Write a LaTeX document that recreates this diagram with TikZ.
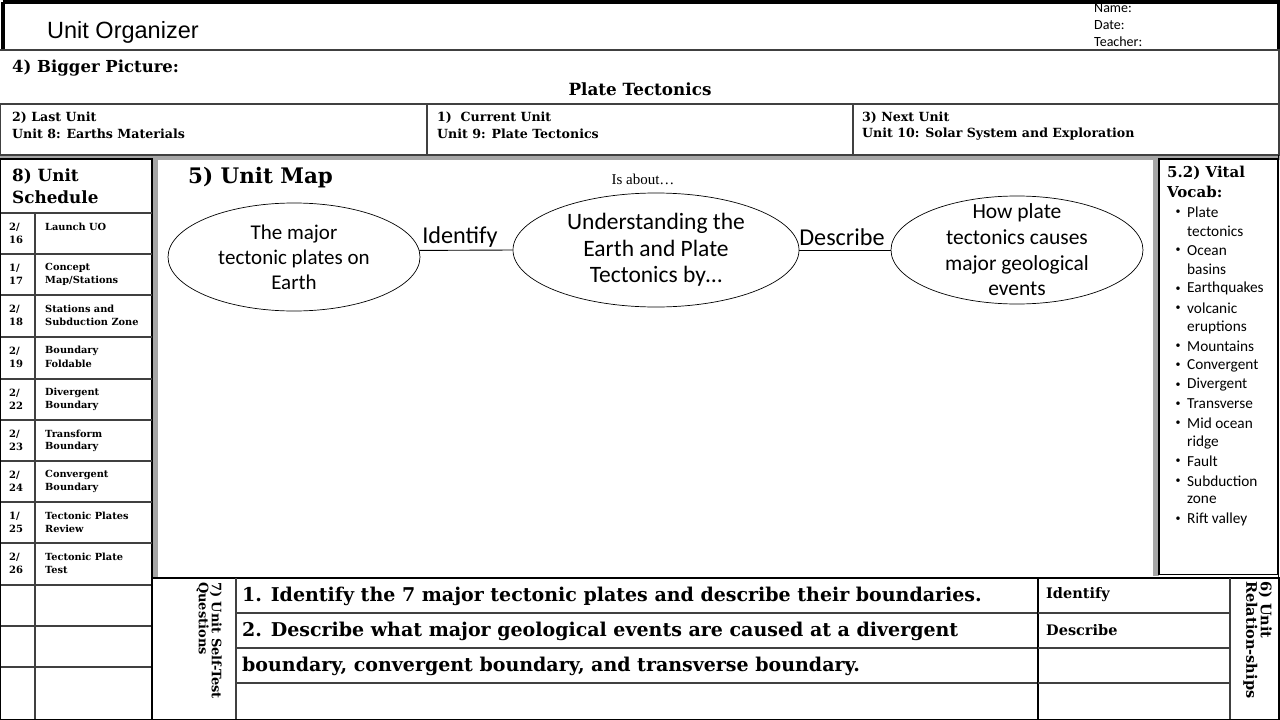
\documentclass[tikz,border=0pt]{standalone}
\usepackage{fontspec}
\setmainfont{Carlito}
\newfontfamily\arialf{Liberation Sans}
\newfontfamily\slab{DejaVu Serif}
\newfontfamily\tnr{Liberation Serif}
\usetikzlibrary{shapes.geometric}
\tikzset{
  sb/.style={inner sep=0pt, font=\slab\bfseries\fontsize{#1}{#1}\selectfont},
  cb/.style={inner sep=0pt, font=\fontsize{#1}{#1}\selectfont},
  rowline/.style={line width=1.3pt, draw=black!75},
  frame/.style={line width=1.3pt, draw=black},
  shade/.style={fill=black!35, draw=none},
  bub/.style={ellipse, draw, line width=0.7pt, inner sep=0pt},
  link/.style={line width=0.9pt},
}
\newcommand\schedrow[6]{%
  \node[sb=10, anchor=west] (da#6) at (9,#1+14) {#2};
  \node[sb=10, anchor=west] (db#6) at (9,#1+27) {#3};
  \node[sb=9.8, anchor=west] (ta#6) at (45,#1+14) {#4};
  \node[sb=9.8, anchor=west] (tb#6) at (45,#1+27) {#5};
}
\begin{document}
\begin{tikzpicture}[x=1pt,y=-1pt]
\useasboundingbox (0,0) rectangle (1280,720);
\fill[white] (0,0) rectangle (1280,720);

% header
\draw[line width=4pt] (2.5,2) -- (1278.5,2) -- (1278.5,50) (2.5,2) -- (2.5,50);
\node[anchor=west, inner sep=0pt, font=\arialf\fontsize{23.5}{23.5}\selectfont] (title) at (47,32) {Unit Organizer};
\node[anchor=west, inner sep=0pt, font=\fontsize{14}{14}\selectfont] (nm) at (1094,8) {Name:};
\node[anchor=west, inner sep=0pt, font=\fontsize{14}{14}\selectfont] (dt) at (1094,25) {Date:};
\node[anchor=west, inner sep=0pt, font=\fontsize{14}{14}\selectfont] (tc) at (1094,42) {Teacher:};

% bigger picture
\draw[rowline] (0,50) -- (1279,50) -- (1279,104) -- (0,104);
\node[sb=16.5, anchor=west] (bp) at (12,68) {4) Bigger Picture:};
\node[sb=16.8] (bpt) at (640,89) {Plate Tectonics};

% units row
\draw[rowline] (0,104) -- (1279,104) -- (1279,155) -- (0,155) -- cycle;
\draw[rowline] (427,104) -- (427,155) (853,104) -- (853,155);
\node[sb=12.6, anchor=west] (lu1) at (12,118) {2) Last Unit};
\node[sb=12.6, anchor=west] (lu2) at (12,134) {Unit 8: Earths Materials};
\node[sb=12.6, anchor=west] (cu1) at (437,118) {1)\ \ Current Unit};
\node[sb=12.6, anchor=west] (cu2) at (437,134) {Unit 9: Plate Tectonics};
\node[sb=12.6, anchor=west] (nu1) at (862,118) {3) Next Unit};
\node[sb=12.6, anchor=west] (nu2) at (862,134) {Unit 10: Solar System and Exploration};

% shadows
\fill[shade] (0,155.6) rectangle (1280,159.5);
\fill[shade] (152,159) rectangle (157.5,578);
\fill[shade] (1152.5,160) rectangle (1159,576);
\draw[frame] (1278.3,155) -- (1278.3,578);

% schedule
\draw[frame, fill=white] (0.7,159) rectangle (152,719.3);
\node[sb=16.8, anchor=west] (sh1) at (12,176) {8) Unit};
\node[sb=16.8, anchor=west] (sh2) at (12,197) {Schedule};
\foreach \y in {213,254,295,337,379,420,461,502,543,585,626,667}
  \draw[rowline] (0.7,\y) -- (152,\y);
\draw[rowline] (35,213) -- (35,719.3);
\schedrow{213}{2/}{16}{Launch UO}{}{1}
\schedrow{254}{1/}{17}{Concept}{Map/Stations}{2}
\schedrow{295}{2/}{18}{Stations and}{Subduction Zone}{3}
\schedrow{337}{2/}{19}{Boundary}{Foldable}{4}
\schedrow{379}{2/}{22}{Divergent}{Boundary}{5}
\schedrow{420}{2/}{23}{Transform}{Boundary}{6}
\schedrow{461}{2/}{24}{Convergent}{Boundary}{7}
\schedrow{502}{1/}{25}{Tectonic Plates}{Review}{8}
\schedrow{543}{2/}{26}{Tectonic Plate}{Test}{9}

% unit map
\node[sb=21.4, anchor=west] (um) at (188,178) {5) Unit Map};
\node[inner sep=0pt, font=\tnr\fontsize{15}{15}\selectfont] (isab) at (643,179) {Is about…};

\node[bub, minimum width=252pt, minimum height=108pt] (L) at (294,257) {};
\node[bub, minimum width=286pt, minimum height=114pt] (C) at (656,250) {};
\node[bub, minimum width=252pt, minimum height=108pt] (R) at (1017,250) {};
\node[align=center, inner sep=0pt, font=\fontsize{21}{25}\selectfont] (Lt) at (294,257) {The major\\tectonic plates on\\Earth};
\node[align=center, inner sep=0pt, font=\fontsize{23.5}{26.5}\selectfont] (Ct) at (656,250) {Understanding the\\Earth and Plate\\Tectonics by…};
\node[align=center, inner sep=0pt, font=\fontsize{21.5}{25.7}\selectfont] (Rt) at (1017,250) {How plate\\tectonics causes\\major geological\\events};
\draw[link] (L.3.7) -- (C.west);
\draw[link] (C.east) -- (R.west);
\node[cb=24.2] (idl) at (460,237) {Identify};
\node[cb=24.2] (del) at (842,237) {Describe};

% vocab
\draw[frame, fill=white] (1159,159) rectangle (1278,574.5);
\node[sb=15, anchor=west] (vt1) at (1167,173) {5.2) Vital};
\node[sb=15, anchor=west] (vt2) at (1167,192) {Vocab:};
\foreach \i/\w in {0/Plate,2/Ocean,4/Earthquakes,5/volcanic,7/Mountains,8/Convergent,9/Divergent,10/Transverse,11/Mid ocean,13/Fault,14/Subduction,16/Rift valley}{
  \node[cb=15.3, anchor=west] (v\i) at (1187,212+19.2*\i) {\w};
  \node[cb=10, anchor=center] (vb\i) at (1178,212+19.2*\i) {•};
}
\foreach \i/\w in {1/tectonics,3/basins,6/eruptions,12/ridge,15/zone}
  \node[cb=15.3, anchor=west] (v\i) at (1187,212+19.2*\i) {\w};

% self test
\draw[frame] (152,578) rectangle (1038,719.3);
\draw[rowline] (236,578) -- (236,719.3);
\foreach \y in {613,648,683} \draw[rowline] (236,\y) -- (1038,\y);
\node[sb=13, rotate=-90, anchor=north west, align=left] (stl) at (222,582) {7) Unit Self-Test\\Questions};
\node[sb=19, anchor=west] (q1) at (242,596) {1. Identify the 7 major tectonic plates and describe their boundaries.};
\node[sb=19, anchor=west] (q2) at (242,631) {2. Describe what major geological events are caused at a divergent};
\node[sb=19, anchor=west] (q3) at (242,666) {boundary, convergent boundary, and transverse boundary.};

% relationships
\draw[frame] (1038,578) rectangle (1279,719.3);
\draw[rowline] (1230,578) -- (1230,719.3);
\foreach \y in {613,648,683} \draw[rowline] (1038,\y) -- (1230,\y);
\node[sb=14.5, anchor=west] (r1) at (1046,595) {Identify};
\node[sb=14.5, anchor=west] (r2) at (1046,630) {Describe};
\node[sb=14.5, rotate=-90, anchor=north west, align=left] (rl) at (1272,581) {6) Unit\\Relation-ships};
\end{tikzpicture}
\end{document}
